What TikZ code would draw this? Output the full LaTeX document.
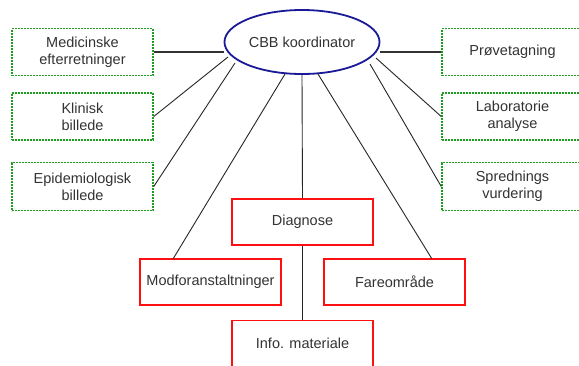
\documentclass[tikz,border=0pt]{standalone}
\usepackage{fontspec}
\setmainfont{Liberation Sans}
\usetikzlibrary{shapes.geometric}
\definecolor{txt}{HTML}{333333}
\definecolor{navy}{HTML}{1A1A99}
\definecolor{grn}{HTML}{1E9E1E}
\definecolor{rd}{HTML}{FF1010}
\begin{document}
\begin{tikzpicture}[x=1pt,y=-1pt,
  every node/.style={font=\fontsize{14.5}{17}\selectfont, text=txt, align=center, inner sep=0pt},
  greenbox/.style={draw=grn, line width=1.5pt, dash pattern=on 2pt off 1pt, minimum width=141pt, minimum height=47pt},
  redbox/.style={draw=rd, line width=1.8pt, minimum width=141pt, minimum height=46pt},
  link/.style={draw=black!85, line width=0.9pt},
  thick link/.style={draw=black!80, line width=2pt}]
\useasboundingbox (0,0) rectangle (579,365);
\clip (0,0) rectangle (579,365);
\fill[white] (0,0) rectangle (579,365);
% nodes
\node[draw=navy, line width=1.8pt, ellipse, minimum width=155pt, minimum height=64pt] (cbb) at (302,42) {CBB koordinator};
\node[greenbox] (med) at (82.5,52) {Medicinske\\efterretninger};
\node[greenbox] (kli) at (82.5,116.5) {Klinisk\\billede};
\node[greenbox, minimum height=48pt] (epi) at (82.5,186.5) {Epidemiologisk\\billede};
\node[greenbox] (pro) at (512.5,52) {Prøvetagning};
\node[greenbox] (lab) at (512.5,116.5) {Laboratorie\\analyse};
\node[greenbox, minimum height=48pt] (spr) at (512.5,186.5) {Sprednings\\vurdering};
\node[redbox] (dia) at (302.5,222) {Diagnose};
\node[redbox] (mod) at (210.5,282) {Modforanstaltninger};
\node[redbox] (far) at (394.5,282) {Fareområde};
\node[redbox] (inf) at (302.5,343.5) {Info. materiale};
% connector end points
\coordinate (c1) at (228,57);
\coordinate (c2) at (235,63);
\coordinate (c3) at (285,74);
\coordinate (c4) at (318,74);
\coordinate (c5) at (376,58);
\coordinate (c6) at (370,64);
\coordinate (m1) at (173,259);
\coordinate (f1) at (432,259);
% connectors
\draw[thick link] (med.east) -- (cbb.west |- med.east);
\draw[thick link] (cbb.east |- pro.west) -- (pro.west);
\draw[link] (kli.east) -- (c1);
\draw[link] (epi.east) -- (c2);
\draw[link] (lab.west) -- (c5);
\draw[link] (spr.west) -- (c6);
\draw[link] (cbb.south) -- (dia.north);
\draw[link] (dia.south) -- (inf.north);
\draw[link] (m1) -- (c3);
\draw[link] (f1) -- (c4);
\end{tikzpicture}
\end{document}
